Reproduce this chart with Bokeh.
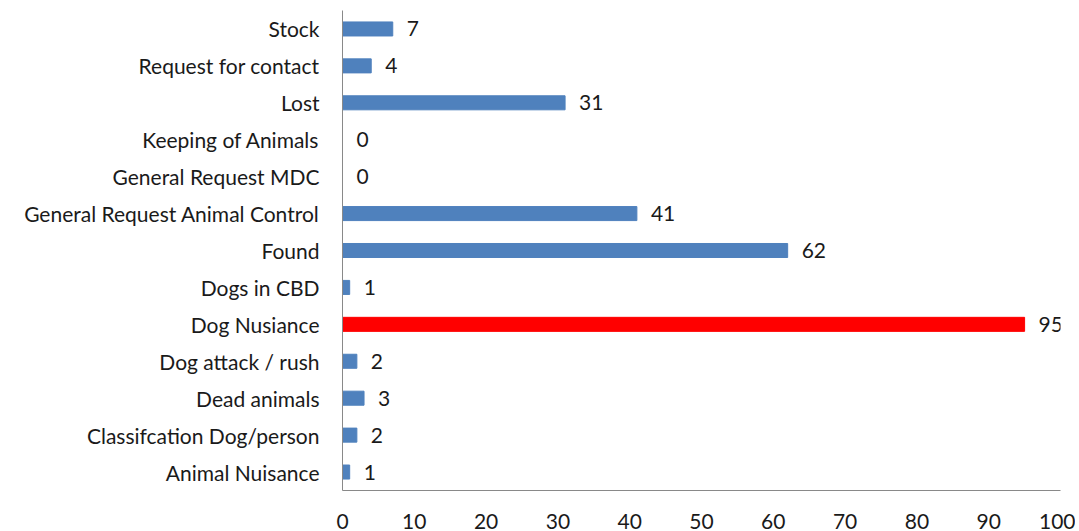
from bokeh.plotting import figure
from bokeh.models import ColumnDataSource, Range1d
from bokeh.embed import file_html
from bokeh.resources import INLINE
from bokeh.core.properties import value

categories = ["Animal Nuisance", "Classifcation Dog/person", "Dead animals",
              "Dog attack / rush", "Dog Nusiance", "Dogs in CBD", "Found",
              "General Request Animal Control", "General Request MDC",
              "Keeping of Animals", "Lost", "Request for contact", "Stock"]
counts = [1, 2, 3, 2, 95, 1, 62, 41, 0, 0, 31, 4, 7]
highlight = "Dog Nusiance"
x_ticks = list(range(0, 101, 10))

colors = ["#FF0000" if c == highlight else "#4F81BD" for c in categories]
labels = [str(v) for v in counts]
src = ColumnDataSource(dict(cat=categories, val=counts, color=colors, lab=labels))

FONT = "Lato"
FS = "21px"
p = figure(y_range=categories, x_range=Range1d(0, 100), width=1075, height=531,
           output_backend="svg", toolbar_location=None,
           min_border_left=342, min_border_right=15, min_border_top=10,
           min_border_bottom=40)
p.hbar(y="cat", right="val", height=0.38, color="color", source=src)
p.text(x="val", y="cat", text="lab", source=src, x_offset=14,
       text_align="left", text_baseline="middle", text_font=value(FONT),
       text_font_size=FS, text_color="#1a1a1a")

p.outline_line_color = None
p.xgrid.grid_line_color = None
p.ygrid.grid_line_color = None
p.xaxis.ticker = x_ticks
for ax in (p.xaxis, p.yaxis):
    ax.axis_line_color = "#898989"
    ax.major_tick_line_color = None
    ax.minor_tick_line_color = None
    ax.major_label_text_font = FONT
    ax.major_label_text_font_size = FS
    ax.major_label_text_color = "#1a1a1a"
p.xaxis.major_label_standoff = 17
p.yaxis.major_label_standoff = 17

open("out.html", "w").write(file_html(p, INLINE))
